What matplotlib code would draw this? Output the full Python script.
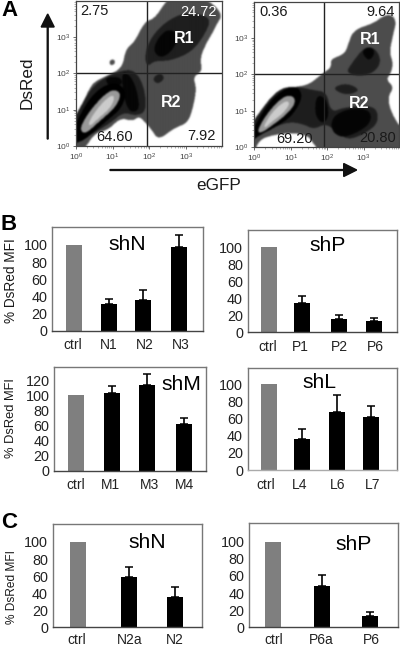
import matplotlib
matplotlib.use('Agg')
import matplotlib.pyplot as plt
from matplotlib.path import Path
import numpy as np

plt.rcParams['font.family'] = ['Liberation Sans', 'DejaVu Sans']
plt.rcParams['mathtext.default'] = 'regular'

W, H = 400, 646

# flow plots: contour outlines, in channel units (109.5 channels per decade)
left_outer = [(-15,70),(0,88),(20,118),(45,173),(60,193),(100,213),(140,233),(150,288),(175,308),(205,368),(235,378),(270,433),
              (300,450),(345,450),(400,423),(430,388),(415,363),(400,333),(385,308),(365,263),(372,223),(345,208),
              (355,173),(345,118),(330,73),(290,58),(245,23),(225,53),(212,68),(190,93),(170,78),(135,88),(100,53),
              (60,43),(30,-5),(-15,-10)]
left_dot = [(100,253),(108,260),(117,254),(112,244),(102,244)]
left_dark = [[(-10,68),(5,85),(45,158),(75,188),(130,213),(165,213),(190,168),(195,103),(165,93),(135,103),(100,73),(40,38),(10,18),(-10,15)],
             [(215,268),(225,313),(260,358),(310,388),(355,388),(390,373),(370,328),(340,288),(285,263),(240,263),(225,248)],
             [(232,205),(250,218),(262,205),(250,190),(235,192)]]
left_black = [[(140,215),(165,200),(180,160),(185,115),(160,110),(145,150)],
              [(235,290),(250,325),(275,345),(300,330),(285,290),(255,270)],
              [(90,205),(130,205),(135,185),(100,180)]]
left_ring = [(-15,45),(0,55),(5,70),(40,135),(80,172),(120,177),(138,148),(125,110),(90,80),(40,36),(15,20),(-15,22)]
left_core = [(25,73),(55,118),(95,158),(118,158),(125,143),(110,113),(70,78),(35,46),(22,53)]
left_inner = [(40,73),(65,113),(100,148),(113,143),(100,113),(65,83),(45,63)]

right_outer = [(-15,40),(0,56),(22,101),(52,136),(87,171),(122,179),(167,186),(209,221),(232,236),(230,261),(272,276),(282,306),
               (297,346),(357,366),(382,386),(407,391),(422,371),(412,331),(402,281),(412,251),(407,221),(392,201),
               (415,179),(397,151),(405,111),(427,71),(450,41),(450,-15),(209,-15),(182,11),(167,36),(127,46),(67,41),
               (22,26),(7,-15),(-15,-15)]
right_dark = [[(-10,41),(27,96),(77,161),(122,173),(177,161),(212,156),(222,101),(262,116),(342,121),(352,76),(317,46),
               (267,26),(232,56),(207,71),(177,56),(147,71),(107,76),(57,56),(22,41),(7,16),(-10,11)],
              [(282,226),(297,251),(332,296),(362,291),(377,256),(357,226),(317,216)],
              [(237,176),(277,191),(317,171),(277,156)]]
right_black = [[(190,150),(215,140),(222,95),(205,75),(185,100)],
               [(245,90),(290,110),(340,105),(340,70),(300,45),(265,35),(240,55)],
               [(325,285),(345,300),(362,285),(345,260)]]
right_ring = [(-15,30),(0,51),(42,125),(87,165),(122,170),(135,141),(107,92),(62,62),(22,42),(2,27),(-15,18)]
right_core = [(17,56),(47,106),(87,146),(112,146),(117,126),(92,96),(52,66),(27,49)]
right_inner = [(32,66),(57,106),(92,136),(105,128),(85,100),(52,76),(38,62)]

# bar panels
cats_nb = ['ctrl', 'N1', 'N2', 'N3']
vals_nb = [100, 31, 36, 98]
errs_nb = [0, 6, 11.5, 13.7]
cats_pb = ['ctrl', 'P1', 'P2', 'P6']
vals_pb = [100, 34.5, 16, 13]
errs_pb = [0, 8.2, 4.8, 3.5]
cats_m = ['ctrl', 'M1', 'M3', 'M4']
vals_m = [100, 102.6, 113.3, 61.8]
errs_m = [0, 9.4, 14.7, 7.6]
cats_l = ['ctrl', 'L4', 'L6', 'L7']
vals_l = [100, 36.4, 67, 61.3]
errs_l = [0, 11.3, 19.8, 13.5]
cats_nc = ['ctrl', 'N2a', 'N2']
vals_nc = [100, 58.6, 36]
errs_nc = [0, 12.1, 11.7]
cats_pc = ['ctrl', 'P6a', 'P6']
vals_pc = [100, 48.8, 13.7]
errs_pc = [0, 12.2, 3.9]


def make_axes(x0, y0, x1, y1):
    # box given in picture pixels, y measured from the top
    return fig.add_axes([x0 / W, 1 - y1 / H, (x1 - x0) / W, (y1 - y0) / H])


def smooth(points, grow, rounds=3):
    # corner cutting so the outlines are round like real contours; grow undoes the shrink this causes
    p = np.array(points, dtype=float)
    for _ in range(rounds):
        q = np.roll(p, -1, axis=0)
        p = np.column_stack([0.75 * p + 0.25 * q, 0.25 * p + 0.75 * q]).reshape(-1, 2)
    c = p.mean(axis=0)
    return c + (p - c) * grow


def blur(img, sigma):
    r = int(3 * sigma) + 1
    k = np.exp(-0.5 * (np.arange(-r, r + 1) / sigma) ** 2)
    k /= k.sum()
    pad = np.pad(img, r, mode='edge')
    pad = np.apply_along_axis(lambda v: np.convolve(v, k, mode='same'), 0, pad)
    pad = np.apply_along_axis(lambda v: np.convolve(v, k, mode='same'), 1, pad)
    return pad[r:-r, r:-r]


def density(layers):
    # each layer paints one grey level over the ones before it
    xs, ys = np.meshgrid(np.arange(0.75, 435, 1.5), np.arange(0.75, 438, 1.5))
    pts = np.column_stack([xs.ravel(), ys.ravel()])
    img = np.ones(xs.shape)
    for polys, level, grow in layers:
        for poly in polys:
            mask = Path(smooth(poly, grow)).contains_points(pts).reshape(xs.shape)
            img[mask] = level
    return blur(img, 1.5)


def flow_panel(box, layers, qx, qy):
    ax = make_axes(*box)
    ax.imshow(density(layers), cmap='gray', vmin=0, vmax=1, origin='lower', extent=(0, 435, 0, 438),
              aspect='auto', interpolation='bilinear')
    ax.axvline(qx, color='#222222', lw=1)
    ax.axhline(qy, color='#222222', lw=1)
    ax.set_xlim(0, 435)
    ax.set_ylim(0, 438)
    major = [0, 109.5, 219, 328.5]
    labels = ['$10^{%d}$' % i for i in range(4)]
    minor = [109.5 * (d + np.log10(k)) for d in range(4) for k in range(2, 10)]
    minor = [m for m in minor if m < 435]
    for axis in (ax.xaxis, ax.yaxis):
        axis.set_ticks(major)
        axis.set_ticklabels(labels)
        axis.set_ticks(minor, minor=True)
    ax.tick_params(which='major', length=2.5, width=0.6, color='#555555', labelsize=6, labelcolor='#444444', pad=1.5)
    ax.tick_params(which='minor', length=1.3, width=0.4, color='#777777')
    for s in ax.spines.values():
        s.set_color('#444444')
        s.set_linewidth(0.9)
    return ax


def bar_panel(box, centers, label_x, cats, vals, errs, ymax, yticks, bottom='#444444', pad=5.5):
    ax = make_axes(*box)
    ax.bar(centers, vals, width=16, color=['#7f7f7f'] + ['black'] * (len(vals) - 1))
    for c, v, e in zip(centers[1:], vals[1:], errs[1:]):
        ax.errorbar(c, v, yerr=[[0], [e]], color='black', lw=1.2, capsize=2.6, capthick=1.1)
    ax.set_xlim(box[0], box[2])
    ax.set_ylim(0, ymax)
    ax.set_xticks(label_x)
    ax.set_xticklabels(cats, fontsize=10, color='#222222')
    ax.set_yticks(yticks)
    ax.tick_params(axis='y', length=0, pad=3.4, labelsize=10.4, labelcolor='#222222')
    ax.tick_params(axis='x', length=0, pad=pad)
    for s in ax.spines.values():
        s.set_color('#777777')
        s.set_linewidth(1)
    ax.spines['bottom'].set_color(bottom)
    return ax


fig = plt.figure(figsize=(W / 100, H / 100), dpi=100)

flow_panel((76, 0.5, 221.5, 146),
           [([left_outer], 0.3, 1.03), ([left_dot], 0.3, 1.1), (left_dark, 0.12, 1.14), (left_black, 0.02, 1.2),
            ([left_ring], 0.0, 1.14), ([left_core], 0.6, 1.16), ([left_inner], 0.8, 1.1)], 212, 221)
flow_panel((254.3, 1.5, 399, 147),
           [([right_outer], 0.3, 1.03), (right_dark, 0.12, 1.12), (right_black, 0.02, 1.2),
            ([right_ring], 0.0, 1.14), ([right_core], 0.6, 1.16), ([right_inner], 0.8, 1.1)], 210, 221)

t100 = [0, 20, 40, 60, 80, 100]
t120 = t100 + [120]
bar_panel((52, 227.3, 202.7, 330.7), [74.3, 109, 143.3, 178.5], [73, 109, 145, 181], cats_nb, vals_nb, errs_nb, 120.5, t100)
bar_panel((247.7, 230, 396.7, 332.3), [269, 301.7, 338.7, 373.7], [268, 300, 339, 375], cats_pb, vals_pb, errs_pb, 120.3, t100)
bar_panel((54.3, 367.3, 206, 470.5), [76.3, 112.3, 147, 183.7], [76, 110, 149.7, 184], cats_m, vals_m, errs_m, 137.2, t120)
bar_panel((247.7, 367.7, 396.7, 470), [268.7, 302.3, 336.7, 371], [266, 300, 338, 372.7], cats_l, vals_l, errs_l, 119, t100, bottom='#aaaaaa')
bar_panel((52.7, 524.3, 201.7, 627.3), [77.7, 129, 175], [77, 129.3, 175], cats_nc, vals_nc, errs_nc, 120.7, t100, pad=4)
bar_panel((249.3, 523.3, 397.7, 627.3), [273, 322, 370], [273.3, 321.7, 371.7], cats_pc, vals_pc, errs_pc, 121.5, t100, pad=4)

# overlay in picture pixels for labels and arrows
ov = fig.add_axes([0, 0, 1, 1], zorder=5)
ov.set_xlim(0, W)
ov.set_ylim(H, 0)
ov.axis('off')
ov.patch.set_alpha(0)


def label(x, y, s, size=10.5, color='#1a1a1a', weight='normal', rot=0, ha='center'):
    ov.text(x, y, s, fontsize=size, color=color, fontweight=weight, rotation=rot, ha=ha, va='center')


ov.arrow(47.7, 139, 0, -125, width=0.9, head_width=13, head_length=13, color='#111111', length_includes_head=True)
ov.arrow(110, 170, 246.7, 0, width=0.9, head_width=13, head_length=13, color='#111111', length_includes_head=True)

label(1, 11, 'A', 16, 'black', 'bold', ha='left')
label(0, 225, 'B', 16, 'black', 'bold', ha='left')
label(1, 523, 'C', 16, 'black', 'bold', ha='left')
label(26.7, 83, 'DsRed', 12.3, rot=90)
label(219, 185, 'eGFP', 12.3)

label(94.3, 11, '2.75')
label(198.7, 11.7, '24.72', color='white')
label(184.3, 38.3, 'R1', 11.5, 'white', 'bold')
label(171, 102.7, 'R2', 11.5, 'white', 'bold')
label(114.3, 136.7, '64.60')
label(201, 136, '7.92')
label(273.3, 12.3, '0.36')
label(381, 11.7, '9.64')
label(369.7, 40, 'R1', 11.5, 'white', 'bold')
label(359.3, 103.3, 'R2', 11.5, 'white', 'bold')
label(294.3, 139.3, '69.20')
label(378, 137.7, '20.80')

label(127.7, 244, 'shN', 15.2, 'black')
label(328, 245.7, 'shP', 15.2, 'black')
label(181.7, 384, 'shM', 15.2, 'black')
label(319, 383, 'shL', 15.2, 'black')
label(147, 543, 'shN', 15.2, 'black')
label(354, 544, 'shP', 15.2, 'black')

label(10.7, 281, '% DsRed MFI', 9.8, rot=90)
label(11, 418, '% DsRed MFI', 9.3, rot=90)
label(11.7, 587, '% DsRed MFI', 8.6, rot=90)

fig.savefig('out.png', dpi=100)
